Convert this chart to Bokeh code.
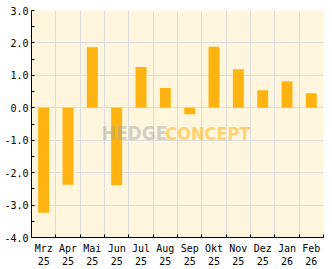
from bokeh.plotting import figure
from bokeh.models import FixedTicker, Label, Range1d
from bokeh.embed import file_html
from bokeh.resources import INLINE

months = ["Mrz", "Apr", "Mai", "Jun", "Jul", "Aug", "Sep", "Okt", "Nov", "Dez", "Jan", "Feb"]
years = ["25", "25", "25", "25", "25", "25", "25", "25", "25", "25", "26", "26"]
values = [-3.24, -2.37, 1.87, -2.39, 1.26, 0.61, -0.20, 1.88, 1.19, 0.54, 0.82, 0.45]
y_ticks = [-4, -3, -2, -1, 0, 1, 2, 3]
y_labels = ["-4.0", "-3.0", "-2.0", "-1.0", "0.0", "1.0", "2.0", "3.0"]

n = len(months)
centers = [i + 0.5 for i in range(n)]
bounds = list(range(n + 1))

p = figure(width=332, height=269, output_backend="svg", toolbar_location=None,
           x_range=Range1d(0, n), y_range=Range1d(-4, 3),
           min_border_left=31, min_border_right=9, min_border_top=10, min_border_bottom=30)
p.border_fill_color = "white"
p.background_fill_color = "#FFF6DD"
p.outline_line_color = None

p.vbar(x=centers, top=values, bottom=0, width=0.45, color="#FFB310", line_color=None)

mono = "DejaVu Sans Mono"
# x axis
xa = p.xaxis[0]
xa.ticker = FixedTicker(ticks=centers, minor_ticks=bounds)
xa.major_label_overrides = {c: f"{m}\n{y}" for c, m, y in zip(centers, months, years)}
xa.major_tick_in = 0
xa.major_tick_out = 0
xa.minor_tick_in = 3
xa.minor_tick_out = 0
xa.minor_tick_line_color = "black"
xa.major_label_text_font = mono
xa.major_label_text_font_size = "10px"
xa.major_label_text_color = "black"
xa.major_label_standoff = 5
xa.axis_line_color = "black"

ya = p.yaxis[0]
ya.ticker = FixedTicker(ticks=y_ticks, minor_ticks=[t + 0.5 for t in y_ticks[:-1]])
ya.major_label_overrides = {t: l for t, l in zip(y_ticks, y_labels)}
ya.major_label_standoff = 3
ya.major_label_text_font = mono
ya.major_label_text_font_size = "10px"
ya.major_label_text_color = "black"
ya.major_tick_in = 3
ya.major_tick_out = 0
ya.minor_tick_in = 3
ya.minor_tick_out = 0
ya.major_tick_line_color = "black"
ya.minor_tick_line_color = "black"
ya.axis_line_color = "black"

p.xgrid.ticker = FixedTicker(ticks=bounds)
p.ygrid.ticker = FixedTicker(ticks=y_ticks)
p.xgrid.grid_line_color = "#dddddd"
p.ygrid.grid_line_color = "#dddddd"

# watermark
p.add_layout(Label(x=2.88, y=-0.79, text="HEDGE", text_font="DejaVu Sans Condensed",
                   text_font_style="bold", text_font_size="19px", text_color="#a8a8a8",
                   text_alpha=0.5, text_baseline="alphabetic"))
p.add_layout(Label(x=5.5, y=-0.79, text="CONCEPT", text_font="DejaVu Sans Condensed",
                   text_font_style="bold", text_font_size="18px", text_color="#FFB310",
                   text_alpha=0.55, text_baseline="alphabetic"))

open("out.html", "w").write(file_html(p, INLINE))
